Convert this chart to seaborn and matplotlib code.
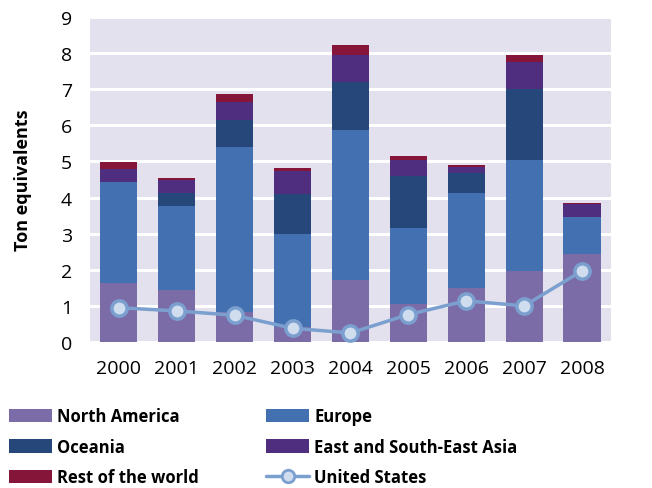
import numpy as np
import pandas as pd
import matplotlib
matplotlib.use("Agg")
import matplotlib.pyplot as plt
import seaborn as sns
from matplotlib.patches import Patch
from matplotlib.lines import Line2D

years = ["2000", "2001", "2002", "2003", "2004", "2005", "2006", "2007", "2008"]
north_america = [1.64, 1.45, 0.84, 0.42, 1.72, 1.06, 1.50, 1.97, 2.44]
europe = [2.79, 2.32, 4.56, 2.58, 4.15, 2.10, 2.63, 3.07, 1.03]
oceania = [0.0, 0.36, 0.74, 1.10, 1.33, 1.43, 0.56, 1.98, 0.0]
east_asia = [0.37, 0.36, 0.51, 0.65, 0.76, 0.44, 0.16, 0.73, 0.36]
rest_world = [0.19, 0.06, 0.22, 0.07, 0.26, 0.12, 0.05, 0.20, 0.02]
united_states = [0.95, 0.86, 0.74, 0.38, 0.25, 0.76, 1.14, 1.00, 1.97]

series_names = ["North America", "Europe", "Oceania", "East and South-East Asia", "Rest of the world"]
series_vals = [north_america, europe, oceania, east_asia, rest_world]
colors = ["#7B6BA6", "#4270B0", "#25477A", "#4F2D7F", "#85163A"]
line_col = "#7BA0CF"
marker_face = "#CFDDEF"

sns.set_theme(style="darkgrid", rc={"axes.facecolor": "#E3E1ED", "grid.color": "white",
                                    "grid.linewidth": 2.2, "text.color": "black",
                                    "axes.labelcolor": "black", "xtick.color": "black",
                                    "ytick.color": "black"})
plt.rcParams["font.family"] = ["Open Sans", "DejaVu Sans"]

df = pd.DataFrame(dict(zip(series_names, series_vals)), index=years)
cum = df.cumsum(axis=1)

fig = plt.figure(figsize=(6.52, 4.89), dpi=100)
ax = fig.add_axes([0.138, 0.2986, 0.799, 0.6644])

# draw cumulative totals from the top down so each layer shows its own segment
for name, col in reversed(list(zip(series_names, colors))):
    sns.barplot(x=years, y=cum[name].values, color=col, width=0.64,
                saturation=1, linewidth=0, edgecolor="none", ax=ax, zorder=2)

sns.lineplot(x=np.arange(len(years)), y=united_states, ax=ax, color=line_col, lw=2.5,
             marker="o", markersize=11, markerfacecolor=marker_face,
             markeredgecolor=line_col, markeredgewidth=2.5, zorder=4)

ax.set_xlim(-0.5, 8.5)
ax.set_ylim(0, 9)
ax.set_yticks(range(10))
ax.grid(axis="x", visible=False)
ax.set_axisbelow(True)
for s in ax.spines.values():
    s.set_visible(False)
ax.tick_params(axis="both", labelsize=14, length=0)
ax.tick_params(axis="y", pad=13)
ax.tick_params(axis="x", pad=12)
ax.set_ylabel("Ton equivalents", fontsize=13, fontweight="bold")
ax.yaxis.set_label_coords(-0.111, 0.5)
ax.set_xlabel("")

handles = [Patch(facecolor=c, edgecolor="none") for c in colors]
handles.append(Line2D([0], [0], color=line_col, lw=2.5, marker="o", markersize=9,
                      markerfacecolor=marker_face, markeredgecolor=line_col, markeredgewidth=2))
labels = series_names + ["United States"]
leg_kw = dict(frameon=False, prop={"size": 12, "weight": "bold"}, handlelength=2.6,
              handleheight=0.85, labelspacing=0.74, borderpad=0, borderaxespad=0,
              handletextpad=0.3)
leg1 = fig.legend([handles[i] for i in [0, 2, 4]], [labels[i] for i in [0, 2, 4]],
                  loc="lower left", bbox_to_anchor=(9 / 652, 2 / 489), **leg_kw)
leg2 = fig.legend([handles[i] for i in [1, 3, 5]], [labels[i] for i in [1, 3, 5]],
                  loc="lower left", bbox_to_anchor=(266 / 652, 2 / 489), **leg_kw)

fig.savefig("out.png", dpi=100)
